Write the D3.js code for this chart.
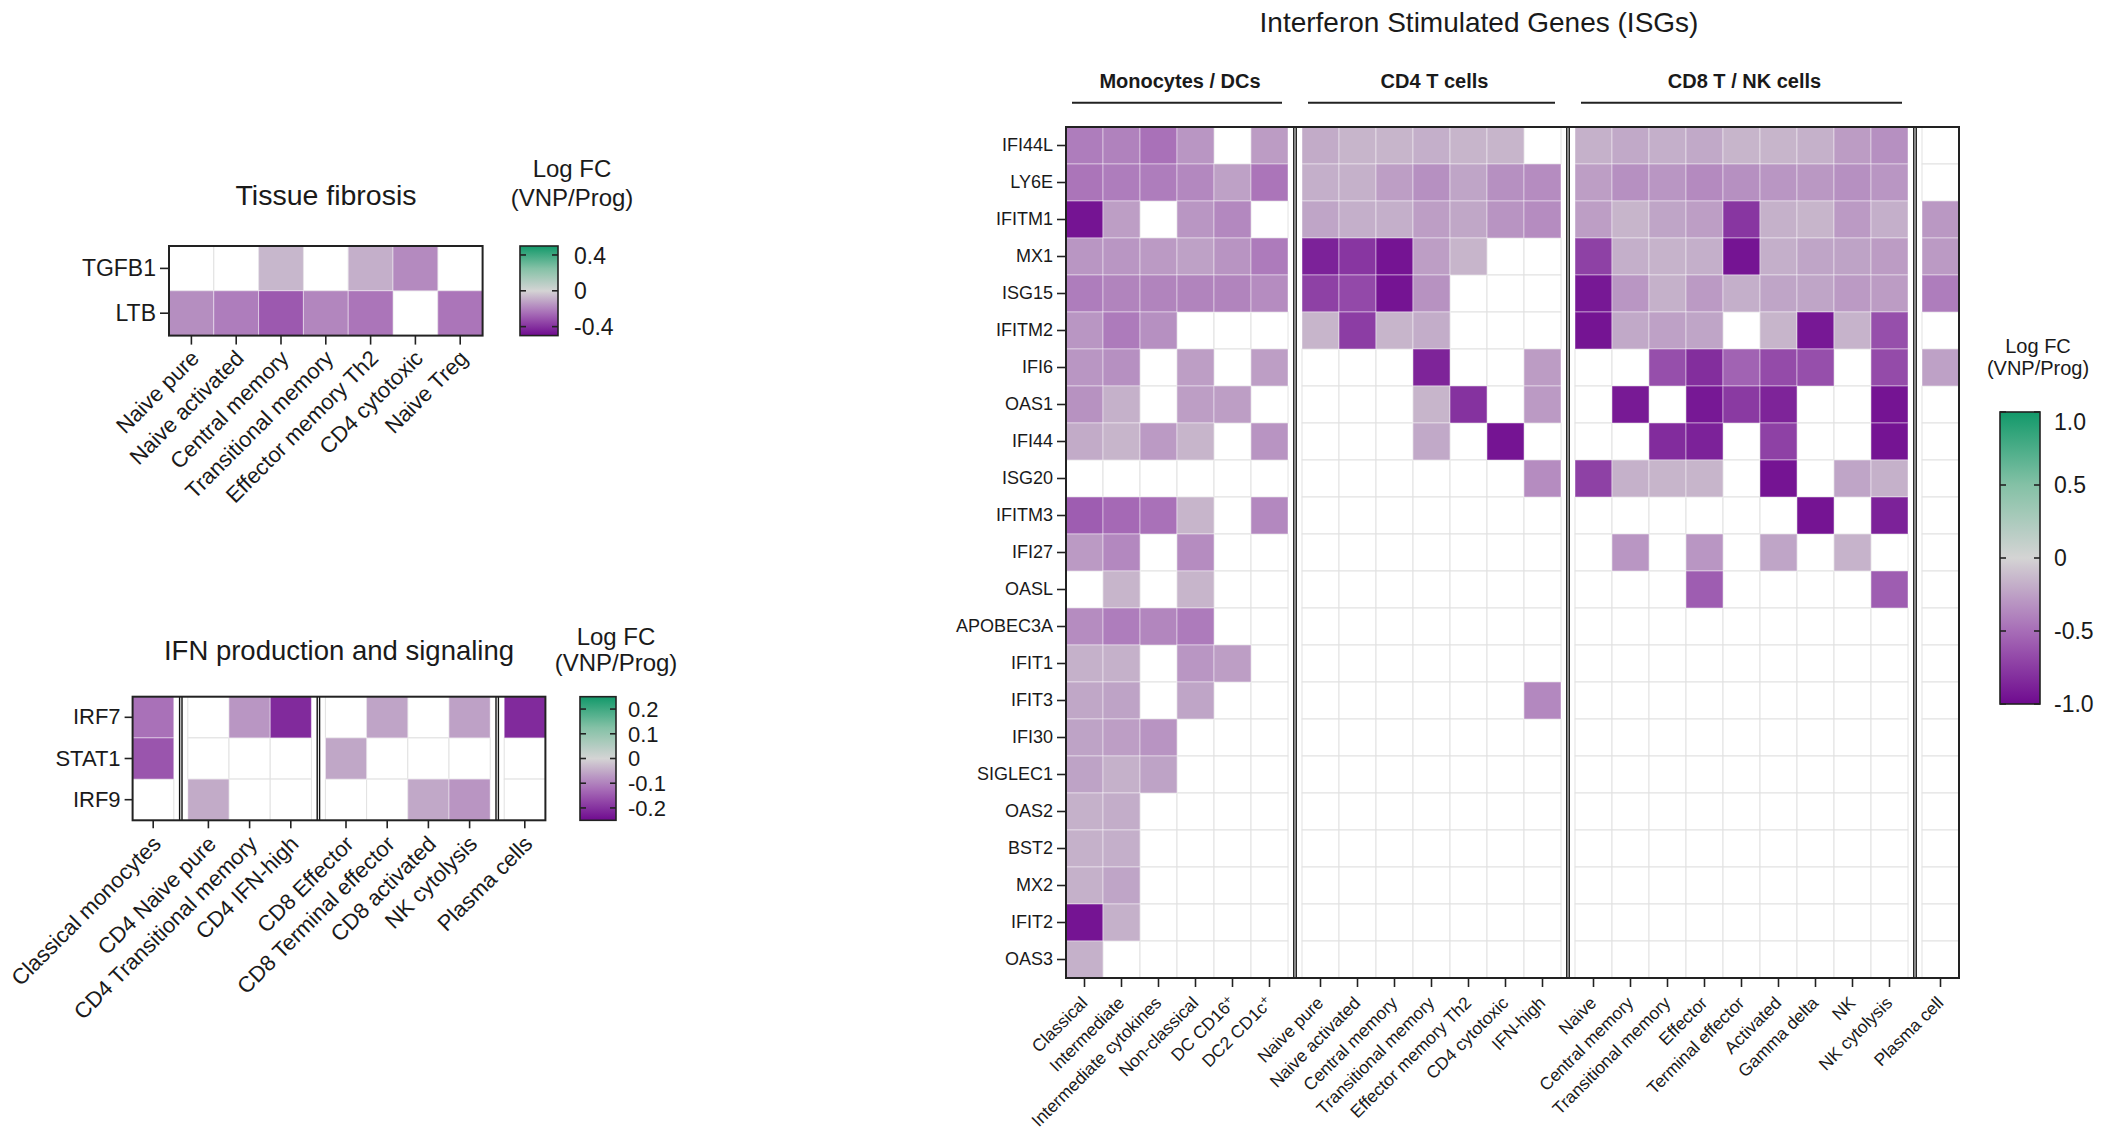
<!DOCTYPE html>
<html>
<head>
<meta charset="utf-8">
<script src="https://cdn.jsdelivr.net/npm/d3@7"></script>
<style>
  html, body { margin: 0; padding: 0; background: #fff; }
  svg { display: block; }
</style>
</head>
<body>
<svg id="chart" width="2116" height="1136"></svg>
<script>
// ---------------------------------------------------------------
// Data: log fold change (VNP / Prog); null = not significant
// ---------------------------------------------------------------

// Tissue fibrosis panel
const fibrosisGenes = ["TGFB1", "LTB"];
const fibrosisCells = ["Naive pure", "Naive activated", "Central memory", "Transitional memory",
                       "Effector memory Th2", "CD4 cytotoxic", "Naive Treg"];
const fibrosisValues = [
  [null, null, -0.07, null, -0.09, -0.18, null],
  [-0.17, -0.21, -0.30, -0.19, -0.23, null, -0.23]
];
const fibrosisLegendTicks = [0.4, 0, -0.4];

// IFN production and signaling panel
const ifnGenes = ["IRF7", "STAT1", "IRF9"];
const ifnCellGroups = [
  ["Classical monocytes"],
  ["CD4 Naive pure", "CD4 Transitional memory", "CD4 IFN-high"],
  ["CD8 Effector", "CD8 Terminal effector", "CD8 activated", "NK cytolysis"],
  ["Plasma cells"]
];
const ifnValues = [
  [-0.12, null, -0.075, -0.21, null, -0.058, null, -0.062, -0.21],
  [-0.155, null, null, null, -0.055, null, null, null, null],
  [null, -0.05, null, null, null, null, -0.053, -0.076, null]
];
const ifnLegendTicks = [0.2, 0.1, 0, -0.1, -0.2];

// Interferon stimulated genes panel
const isgGenes = ["IFI44L", "LY6E", "IFITM1", "MX1", "ISG15", "IFITM2", "IFI6", "OAS1", "IFI44",
                  "ISG20", "IFITM3", "IFI27", "OASL", "APOBEC3A", "IFIT1", "IFIT3", "IFI30",
                  "SIGLEC1", "OAS2", "BST2", "MX2", "IFIT2", "OAS3"];
const isgGroupNames = ["Monocytes / DCs", "CD4 T cells", "CD8 T / NK cells"];
const monoCells = ["Classical", "Intermediate", "Intermediate cytokines", "Non-classical",
                   "DC CD16+", "DC2 CD1c+"];
const cd4Cells = ["Naive pure", "Naive activated", "Central memory", "Transitional memory",
                  "Effector memory Th2", "CD4 cytotoxic", "IFN-high"];
const cd8Cells = ["Naive", "Central memory", "Transitional memory", "Effector", "Terminal effector",
                  "Activated", "Gamma delta", "NK", "NK cytolysis"];
const plasmaCells = ["Plasma cell"];

const isgMonoValues = [
  [-0.42, -0.40, -0.48, -0.30, null, -0.27],
  [-0.46, -0.42, -0.42, -0.37, -0.25, -0.46],
  [-0.95, -0.26, null, -0.30, -0.37, null],
  [-0.30, -0.30, -0.28, -0.25, -0.31, -0.43],
  [-0.42, -0.39, -0.39, -0.39, -0.39, -0.35],
  [-0.30, -0.43, -0.33, null, null, null],
  [-0.30, -0.33, null, -0.26, null, -0.26],
  [-0.32, -0.17, null, -0.26, -0.26, null],
  [-0.20, -0.15, -0.28, -0.15, null, -0.31],
  [null, null, null, null, null, null],
  [-0.58, -0.52, -0.48, -0.15, null, -0.37],
  [-0.28, -0.37, null, -0.35, null, null],
  [null, -0.15, null, -0.15, null, null],
  [-0.35, -0.42, -0.38, -0.43, null, null],
  [-0.17, -0.17, null, -0.30, -0.26, null],
  [-0.22, -0.24, null, -0.23, null, null],
  [-0.24, -0.26, -0.31, null, null, null],
  [-0.24, -0.17, -0.24, null, null, null],
  [-0.17, -0.19, null, null, null, null],
  [-0.17, -0.18, null, null, null, null],
  [-0.17, -0.23, null, null, null, null],
  [-0.95, -0.17, null, null, null, null],
  [-0.17, null, null, null, null, null]
];

const isgCd4Values = [
  [-0.20, -0.15, -0.15, -0.18, -0.15, -0.15, null],
  [-0.18, -0.17, -0.26, -0.33, -0.23, -0.33, -0.35],
  [-0.23, -0.18, -0.18, -0.26, -0.22, -0.31, -0.35],
  [-0.88, -0.78, -0.95, -0.26, -0.15, null, null],
  [-0.72, -0.68, -0.95, -0.32, null, null, null],
  [-0.15, -0.74, -0.15, -0.19, null, null, null],
  [null, null, null, -0.87, null, null, -0.27],
  [null, null, null, -0.15, -0.80, null, -0.28],
  [null, null, null, -0.21, null, -0.95, null],
  [null, null, null, null, null, null, -0.35],
  [null, null, null, null, null, null, null],
  [null, null, null, null, null, null, null],
  [null, null, null, null, null, null, null],
  [null, null, null, null, null, null, null],
  [null, null, null, null, null, null, null],
  [null, null, null, null, null, null, -0.37],
  [null, null, null, null, null, null, null],
  [null, null, null, null, null, null, null],
  [null, null, null, null, null, null, null],
  [null, null, null, null, null, null, null],
  [null, null, null, null, null, null, null],
  [null, null, null, null, null, null, null],
  [null, null, null, null, null, null, null]
];

const isgCd8Values = [
  [-0.17, -0.21, -0.18, -0.21, -0.15, -0.15, -0.17, -0.27, -0.33],
  [-0.26, -0.33, -0.30, -0.36, -0.33, -0.30, -0.29, -0.33, -0.30],
  [-0.26, -0.15, -0.23, -0.26, -0.78, -0.17, -0.15, -0.28, -0.18],
  [-0.72, -0.18, -0.16, -0.18, -0.95, -0.18, -0.23, -0.24, -0.27],
  [-0.93, -0.30, -0.17, -0.28, -0.18, -0.23, -0.23, -0.28, -0.27],
  [-0.95, -0.21, -0.25, -0.23, null, -0.15, -0.93, -0.16, -0.65],
  [null, null, -0.65, -0.82, -0.55, -0.67, -0.65, null, -0.67],
  [null, -0.92, null, -0.93, -0.76, -0.87, null, null, -0.95],
  [null, null, -0.83, -0.88, null, -0.72, null, null, -0.95],
  [-0.72, -0.17, -0.15, -0.15, null, -0.95, null, -0.23, -0.17],
  [null, null, null, null, null, null, -0.95, null, -0.88],
  [null, -0.30, null, -0.30, null, -0.23, null, -0.16, null],
  [null, null, null, -0.58, null, null, null, null, -0.58],
  [null, null, null, null, null, null, null, null, null],
  [null, null, null, null, null, null, null, null, null],
  [null, null, null, null, null, null, null, null, null],
  [null, null, null, null, null, null, null, null, null],
  [null, null, null, null, null, null, null, null, null],
  [null, null, null, null, null, null, null, null, null],
  [null, null, null, null, null, null, null, null, null],
  [null, null, null, null, null, null, null, null, null],
  [null, null, null, null, null, null, null, null, null],
  [null, null, null, null, null, null, null, null, null]
];

const isgPlasmaValues = [null, null, -0.29, -0.28, -0.42, null, -0.25, null, null, null, null, null,
                         null, null, null, null, null, null, null, null, null, null, null];
const isgLegendTicks = [1, 0.5, 0, -0.5, -1];

// ---------------------------------------------------------------
// Drawing helpers
// ---------------------------------------------------------------
const FONT = "'Liberation Sans', Arial, Helvetica, sans-serif";
const INK = "#1a1a1a";
const svg = d3.select("#chart");
const defs = svg.append("defs");

// purple (down) - grey (0) - green (up)
const paletteStops = ["#6f0a8f", "#a76db7", "#d4d4d4", "#84c1a6", "#12996a"];
function divergingColor(m) {
  return d3.scaleLinear()
    .domain([-m, -m / 2, 0, m / 2, m])
    .range(paletteStops)
    .interpolate(d3.interpolateRgb)
    .clamp(true);
}

function tickText(v) {
  return v === 0 ? "0" : v.toFixed(1);
}

function drawHeatmap(cfg) {
  const g = svg.append("g");
  const nRows = cfg.rows.length;
  const bottom = cfg.top + nRows * cfg.cell;
  const y = d3.scaleBand().domain(cfg.rows).range([cfg.top, bottom]);

  // one band scale per cell-type group
  const extents = [];
  let cursor = cfg.left;
  cfg.groups.forEach((grp, gi) => {
    if (gi > 0) cursor += cfg.gap;
    const x1 = cursor + grp.cells.length * cfg.cell;
    extents.push({ x: d3.scaleBand().domain(grp.cells).range([cursor, x1]), x0: cursor, x1 });
    cursor = x1;
  });
  const right = cursor;

  // cells: empty ones first so coloured cells sit on top of the grid
  const cells = [];
  cfg.groups.forEach((grp, gi) => {
    cfg.rows.forEach((r, i) => {
      grp.cells.forEach((c, j) => cells.push({ gi, r, c, v: grp.values[i][j] }));
    });
  });
  cells.sort((a, b) => (a.v == null ? 0 : 1) - (b.v == null ? 0 : 1));

  g.append("g").selectAll("rect").data(cells).join("rect")
    .attr("x", d => extents[d.gi].x(d.c))
    .attr("y", d => y(d.r))
    .attr("width", d => extents[d.gi].x.bandwidth())
    .attr("height", y.bandwidth())
    .attr("fill", d => d.v == null ? "#ffffff" : cfg.color(d.v))
    .attr("stroke", d => d.v == null ? "#e2e2e2" : "rgba(255,255,255,0.45)")
    .attr("stroke-width", 1);

  // double separators between groups
  for (let gi = 1; gi < extents.length; gi++) {
    const sx = (extents[gi - 1].x1 + extents[gi].x0) / 2;
    [-1.2, 1.2].forEach(o => {
      g.append("line")
        .attr("x1", sx + o).attr("x2", sx + o)
        .attr("y1", cfg.top).attr("y2", bottom)
        .attr("stroke", "#111").attr("stroke-width", 1.4);
    });
  }

  // frame
  g.append("rect")
    .attr("x", cfg.left).attr("y", cfg.top)
    .attr("width", right - cfg.left).attr("height", bottom - cfg.top)
    .attr("fill", "none").attr("stroke", "#222").attr("stroke-width", 2);

  // row axis
  const ya = g.append("g")
    .attr("transform", `translate(${cfg.left},0)`)
    .call(d3.axisLeft(y).tickSize(cfg.tick).tickPadding(cfg.tickPad));
  ya.attr("font-family", null).attr("font-size", null);
  ya.select(".domain").remove();
  ya.selectAll("line").attr("stroke", "#222").attr("stroke-width", 1.6);
  ya.selectAll("text")
    .attr("font-family", FONT).attr("font-size", cfg.rowFont).attr("fill", INK);

  // column axes, labels at 45 degrees
  extents.forEach(e => {
    const xa = g.append("g")
      .attr("transform", `translate(0,${bottom})`)
      .call(d3.axisBottom(e.x).tickSize(cfg.tick));
    xa.attr("font-family", null).attr("font-size", null);
    xa.select(".domain").remove();
    xa.selectAll("line").attr("stroke", "#222").attr("stroke-width", 1.6);
    xa.selectAll("text")
      .attr("y", null).attr("dy", null)
      .attr("text-anchor", "end")
      .attr("transform", `translate(${cfg.labelDx},${cfg.labelDy}) rotate(-45)`)
      .attr("font-family", FONT).attr("font-size", cfg.colFont).attr("fill", INK)
      .each(function (d) {
        if (d.endsWith("+")) {
          const t = d3.select(this);
          t.text(d.slice(0, -1));
          t.append("tspan").attr("dy", "-0.45em").attr("font-size", "0.72em").text("+");
        }
      });
  });

  return { y, extents, bottom, right };
}

function drawLegend(cfg) {
  const g = svg.append("g");
  const color = divergingColor(cfg.m);
  const ys = d3.scaleLinear().domain([-cfg.m, cfg.m]).range([cfg.top + cfg.h, cfg.top]);

  const grad = defs.append("linearGradient")
    .attr("id", cfg.id).attr("x1", 0).attr("y1", 0).attr("x2", 0).attr("y2", 1);
  d3.range(0, 1.0001, 0.05).forEach(t => {
    grad.append("stop")
      .attr("offset", t)
      .attr("stop-color", color(cfg.m - 2 * cfg.m * t));
  });

  g.append("rect")
    .attr("x", cfg.x).attr("y", cfg.top)
    .attr("width", cfg.w).attr("height", cfg.h)
    .attr("fill", `url(#${cfg.id})`)
    .attr("stroke", "#222").attr("stroke-width", 1.6);

  cfg.ticks.forEach(t => {
    const ty = ys(t);
    [[cfg.x, cfg.x + 6], [cfg.x + cfg.w - 6, cfg.x + cfg.w]].forEach(([a, b]) => {
      g.append("line")
        .attr("x1", a).attr("x2", b).attr("y1", ty).attr("y2", ty)
        .attr("stroke", "#222").attr("stroke-width", 1.6);
    });
    g.append("text")
      .attr("x", cfg.labelX)
      .attr("y", Math.max(ty, cfg.top + 10))
      .attr("dy", "0.36em")
      .attr("font-family", FONT).attr("font-size", cfg.labelFont).attr("fill", INK)
      .text(tickText(t));
  });

  ["Log FC", "(VNP/Prog)"].forEach((line, i) => {
    g.append("text")
      .attr("x", cfg.titleX).attr("y", cfg.titleY[i])
      .attr("text-anchor", "middle")
      .attr("font-family", FONT).attr("font-size", cfg.titleFont).attr("fill", INK)
      .text(line);
  });
}

function drawTitle(text, x, y, size, weight) {
  svg.append("text")
    .attr("x", x).attr("y", y)
    .attr("text-anchor", "middle")
    .attr("font-family", FONT).attr("font-size", size)
    .attr("font-weight", weight || "normal")
    .attr("fill", INK)
    .text(text);
}

// ---------------------------------------------------------------
// Tissue fibrosis
// ---------------------------------------------------------------
drawHeatmap({
  rows: fibrosisGenes,
  groups: [{ cells: fibrosisCells, values: fibrosisValues }],
  left: 169, top: 246, cell: 44.8, gap: 0,
  color: divergingColor(0.5),
  tick: 9, tickPad: 4, rowFont: 23, colFont: 22,
  labelDx: 9, labelDy: 24
});
drawTitle("Tissue fibrosis", 326, 205, 28.5);
drawLegend({
  id: "gradFibrosis", x: 520, top: 246, w: 38, h: 89.6, m: 0.5,
  ticks: fibrosisLegendTicks, labelX: 574, labelFont: 23,
  titleX: 572, titleY: [177, 206], titleFont: 24
});

// ---------------------------------------------------------------
// IFN production and signaling
// ---------------------------------------------------------------
let ifnCursor = 0;
const ifnGroups = ifnCellGroups.map(cells => {
  const values = ifnValues.map(row => row.slice(ifnCursor, ifnCursor + cells.length));
  ifnCursor += cells.length;
  return { cells, values };
});
drawHeatmap({
  rows: ifnGenes,
  groups: ifnGroups,
  left: 132.6, top: 696.7, cell: 41.2, gap: 14,
  color: divergingColor(0.25),
  tick: 8, tickPad: 4, rowFont: 22, colFont: 22,
  labelDx: 9, labelDy: 25
});
drawTitle("IFN production and signaling", 339, 660, 27.5);
drawLegend({
  id: "gradIfn", x: 580, top: 696.7, w: 36, h: 123.6, m: 0.25,
  ticks: ifnLegendTicks, labelX: 628, labelFont: 22,
  titleX: 616, titleY: [645, 671], titleFont: 24
});

// ---------------------------------------------------------------
// Interferon Stimulated Genes (ISGs)
// ---------------------------------------------------------------
const isgMap = drawHeatmap({
  rows: isgGenes,
  groups: [
    { cells: monoCells, values: isgMonoValues },
    { cells: cd4Cells, values: isgCd4Values },
    { cells: cd8Cells, values: isgCd8Values },
    { cells: plasmaCells, values: isgPlasmaValues.map(v => [v]) }
  ],
  left: 1066, top: 127, cell: 37, gap: 14,
  color: divergingColor(1),
  tick: 9, tickPad: 4, rowFont: 18, colFont: 17.5,
  labelDx: 4, labelDy: 26
});
drawTitle("Interferon Stimulated Genes (ISGs)", 1479, 32, 28);

// group headers with underlines
isgGroupNames.forEach((name, i) => {
  const e = isgMap.extents[i];
  drawTitle(name, (e.x0 + e.x1) / 2 + 3, 88, 20, "bold");
  svg.append("line")
    .attr("x1", e.x0 + 6).attr("x2", e.x1 - 6)
    .attr("y1", 102.7).attr("y2", 102.7)
    .attr("stroke", "#222").attr("stroke-width", 2);
});

drawLegend({
  id: "gradIsg", x: 2000, top: 412, w: 40, h: 292, m: 1,
  ticks: isgLegendTicks, labelX: 2054, labelFont: 23,
  titleX: 2038, titleY: [353, 375], titleFont: 20
});
</script>
</body>
</html>
